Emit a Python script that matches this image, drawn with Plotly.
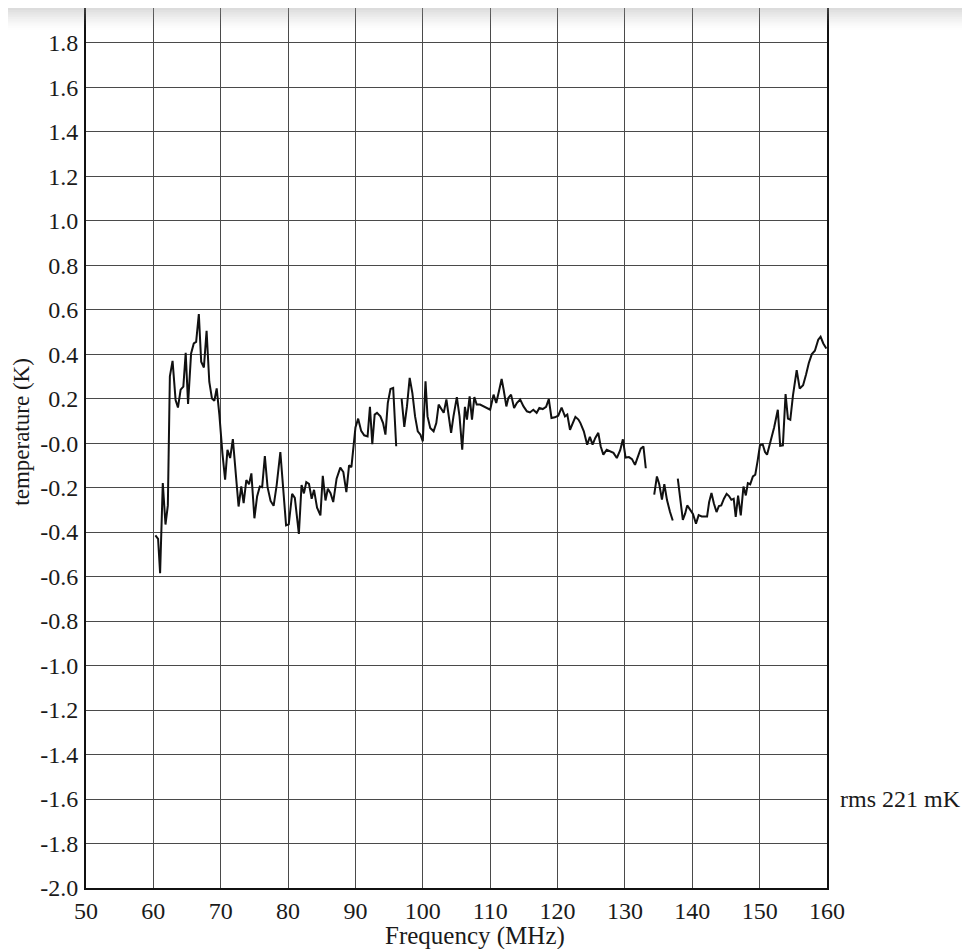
import plotly.graph_objects as go

# Frequency (MHz) and temperature (K); None = gap in the trace
freq = [
    60.3, 60.7, 61.0, 61.4, 61.8, 62.15, 62.45, 62.85, 63.3, 63.65, 64.05, 64.45, 64.8, 65.15, 65.6, 66.0,
    66.35, 66.75, 67.1, 67.5, 67.9, 68.3, 68.7, 69.05, 69.4, 69.8, 70.25, 70.65, 71.0, 71.4, 71.8, 72.2,
    72.65, 73.05, 73.4, 73.8, 74.2, 74.55, 75.0, 75.4, 75.8, 76.15, 76.55, 76.95, 77.4, 77.85, 78.3, 78.85,
    79.25, 79.7, 80.1, 80.6, 81.0, 81.6, 82.0, 82.35, 82.7, 83.1, 83.5, 83.85, 84.3, 84.8, 85.15, 85.55,
    85.9, 86.3, 86.7, 87.2, 87.75, 88.2, 88.65, 89.05, 89.4, 89.7, 90.0, 90.4, 90.85, 91.3, 91.8, 92.15,
    92.5, 92.85, 93.2, 93.7, 94.1, 94.45, 94.8, 95.2, 95.6, 96.05, 96.45,
    96.85, 97.25, 97.65, 98.05, 98.45, 98.85, 99.25, 99.65, 100.0, 100.4, 100.7, 101.1, 101.6, 102.0,
    102.35, 102.75, 103.1, 103.5, 103.9, 104.2, 104.55, 105.05, 105.45, 105.85, 106.25, 106.55, 106.95,
    107.3, 107.65, 108.0, 108.5, 109.0, 109.5, 110.0, 110.5, 110.9, 111.3, 111.7, 112.0, 112.4, 112.7,
    113.1, 113.55, 113.95, 114.45, 114.95, 115.45, 115.9, 116.4, 116.9, 117.3, 117.8, 118.3, 118.7, 119.1,
    119.6, 120.1, 120.6, 121.1, 121.45, 121.85, 122.25, 122.65, 123.1, 123.4, 123.9, 124.4, 124.8, 125.2,
    125.6, 126.05, 126.4, 126.8, 127.3, 127.8, 128.3, 128.8, 129.3, 129.7, 130.1, 130.6, 131.05, 131.5,
    131.9, 132.35, 132.75, 133.1, 133.7,
    134.35, 134.75, 135.1, 135.5, 135.85, 136.25, 136.7, 137.1, 137.5,
    137.85, 138.2, 138.6, 138.95, 139.25, 139.7, 140.1, 140.55, 140.95, 141.4, 141.9, 142.2, 142.5, 142.85,
    143.2, 143.6, 143.95, 144.3, 144.7, 145.1, 145.45, 145.8, 146.15, 146.45, 146.8, 147.2, 147.6, 147.95,
    148.25, 148.6, 149.0, 149.35, 149.7, 150.05, 150.45, 150.8, 151.1, 151.6, 152.15, 152.7, 153.05,
    153.45, 153.85, 154.2, 154.55, 154.95, 155.5, 155.95, 156.45, 156.9, 157.3, 157.75, 158.2, 158.7,
    159.05, 159.45, 159.9,
]
temperature = [
    -0.415, -0.43, -0.585, -0.18, -0.366, -0.28, 0.30, 0.37, 0.194, 0.16, 0.24, 0.254, 0.406, 0.176, 0.403, 0.448,
    0.455, 0.58, 0.366, 0.34, 0.505, 0.276, 0.2, 0.19, 0.246, 0.127, -0.045, -0.164, -0.03, -0.067, 0.018, -0.11,
    -0.285, -0.195, -0.27, -0.166, -0.185, -0.136, -0.338, -0.24, -0.195, -0.198, -0.058, -0.198, -0.26, -0.282, -0.19, -0.04,
    -0.205, -0.37, -0.365, -0.228, -0.246, -0.408, -0.188, -0.226, -0.175, -0.183, -0.25, -0.21, -0.29, -0.325, -0.147, -0.258,
    -0.205, -0.225, -0.265, -0.16, -0.11, -0.13, -0.22, -0.1, -0.108, -0.02, 0.07, 0.11, 0.055, 0.035, 0.03, 0.163,
    -0.005, 0.128, 0.136, 0.12, 0.09, 0.038, 0.18, 0.243, 0.248, -0.014, None,
    0.2, 0.073, 0.166, 0.293, 0.225, 0.12, 0.053, 0.038, 0.008, 0.278, 0.12, 0.068, 0.053, 0.09,
    0.173, 0.15, 0.136, 0.196, 0.113, 0.046, 0.12, 0.207, 0.12, -0.03, 0.163, 0.106, 0.21,
    0.106, 0.207, 0.173, 0.173, 0.165, 0.158, 0.15, 0.218, 0.18, 0.233, 0.288, 0.24, 0.165, 0.203,
    0.218, 0.158, 0.18, 0.196, 0.165, 0.143, 0.138, 0.15, 0.136, 0.158, 0.153, 0.163, 0.198, 0.113,
    0.116, 0.123, 0.16, 0.12, 0.128, 0.06, 0.09, 0.118, 0.106, 0.09, 0.053, -0.007, 0.028, -0.007,
    0.023, 0.046, -0.014, -0.052, -0.03, -0.037, -0.044, -0.067, -0.032, 0.017, -0.065, -0.063, -0.072, -0.098,
    -0.065, -0.025, -0.015, -0.113, None,
    -0.232, -0.15, -0.185, -0.254, -0.185, -0.256, -0.31, -0.348, None,
    -0.16, -0.26, -0.345, -0.316, -0.28, -0.3, -0.318, -0.362, -0.324, -0.33, -0.328, -0.33, -0.266, -0.224,
    -0.27, -0.31, -0.283, -0.28, -0.25, -0.228, -0.238, -0.255, -0.25, -0.332, -0.236, -0.325, -0.195, -0.235,
    -0.18, -0.185, -0.15, -0.142, -0.08, -0.01, -0.005, -0.04, -0.052, 0.005, 0.07, 0.15, -0.012,
    -0.01, 0.22, 0.11, 0.105, 0.215, 0.328, 0.245, 0.26, 0.31, 0.36, 0.4, 0.415, 0.465,
    0.478, 0.448, 0.425,
]

x_ticks = [50, 60, 70, 80, 90, 100, 110, 120, 130, 140, 150, 160]
y_ticks = [-2.0, -1.8, -1.6, -1.4, -1.2, -1.0, -0.8, -0.6, -0.4, -0.2, 0.0,
           0.2, 0.4, 0.6, 0.8, 1.0, 1.2, 1.4, 1.6, 1.8]
y_tick_text = ["-2.0", "-1.8", "-1.6", "-1.4", "-1.2", "-1.0", "-0.8", "-0.6", "-0.4", "-0.2", "-0.0",
               "0.2", "0.4", "0.6", "0.8", "1.0", "1.2", "1.4", "1.6", "1.8"]
x_title = "Frequency (MHz)"
y_title = "temperature (K)"
rms_label = "rms 221 mK"

FONT = "Liberation Serif, Times New Roman, serif"
TXT = "#1a1a1a"

fig = go.Figure()
fig.add_trace(go.Scatter(
    x=freq, y=temperature, mode="lines",
    line=dict(color="#111111", width=2),
    connectgaps=False, showlegend=False, hoverinfo="skip",
))

fig.update_layout(
    width=962, height=941,
    margin=dict(l=78, r=143, t=0, b=61, autoexpand=False),
    paper_bgcolor="white", plot_bgcolor="white",
    font=dict(family=FONT, size=24, color=TXT),
    showlegend=False,
    xaxis=dict(
        range=[50, 160], tickvals=x_ticks, ticktext=[str(v) for v in x_ticks],
        showgrid=True, gridcolor="#4a4a4a", gridwidth=1,
        showline=True, linecolor="#111111", linewidth=2,
        zeroline=False, ticks="", ticklabelstandoff=0,
        tickfont=dict(family=FONT, size=24, color=TXT),
    ),
    yaxis=dict(
        range=[-2.0, 1.956], tickvals=y_ticks, ticktext=y_tick_text,
        showgrid=True, gridcolor="#4a4a4a", gridwidth=1,
        showline=True, linecolor="#111111", linewidth=2, mirror=True,
        zeroline=False, ticks="", ticklabelstandoff=1,
        tickfont=dict(family=FONT, size=24, color=TXT),
    ),
)

fig.add_annotation(
    text=x_title, xref="paper", x=0.5255, xanchor="center",
    yref="paper", y=-0.0549, yanchor="middle", showarrow=False,
    font=dict(family=FONT, size=25, color=TXT),
)
fig.add_annotation(
    text=y_title, xref="paper", x=-0.087, xanchor="center",
    yref="paper", y=0.518, yanchor="middle", showarrow=False, textangle=-90,
    font=dict(family=FONT, size=23, color=TXT),
)
fig.add_annotation(
    text=rms_label, xref="paper", x=1.0155, xanchor="left",
    yref="y", y=-1.6, yanchor="middle", showarrow=False,
    font=dict(family=FONT, size=24, color=TXT),
)

# light gray fade along the top edge of the picture
n_bands = 10
for i in range(n_bands):
    p0 = i * 2.2
    p1 = p0 + 2.2
    fig.add_shape(
        type="rect", xref="paper", yref="paper", layer="above",
        x0=-0.2, x1=1.3,
        y0=(879.7 - p1) / 879.7, y1=(879.7 - p0) / 879.7,
        fillcolor="#9a9a9a", line=dict(width=0),
        opacity=0.35 * (1 - i / n_bands) ** 1.5,
    )

fig.write_html("out.html")
